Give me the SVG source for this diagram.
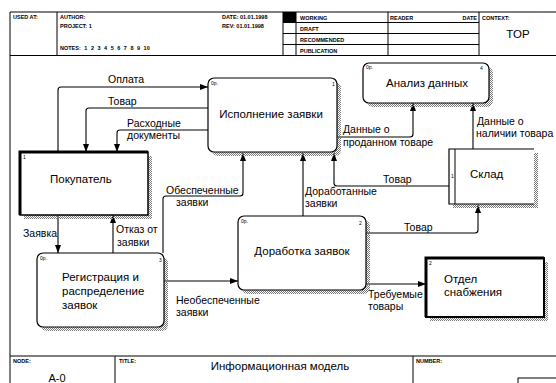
<svg xmlns="http://www.w3.org/2000/svg" width="556" height="383" viewBox="0 0 556 383">
<defs>
<pattern id="hatch" width="2" height="2" patternUnits="userSpaceOnUse"><rect width="1" height="1" fill="#777"/><rect x="1" y="1" width="1" height="1" fill="#777"/></pattern>
<marker id="ah" viewBox="0 0 8 6" refX="8" refY="3" markerWidth="8" markerHeight="6" orient="auto" markerUnits="userSpaceOnUse"><path d="M0,0 L8,3 L0,6 z" fill="#000"/></marker>
</defs>
<style>
.frame{fill:none;stroke:#000;stroke-width:1}
.hdr{font-family:"Liberation Sans",Arial,sans-serif;font-size:5.5px;font-weight:bold;fill:#000}
.box{fill:#fff;stroke:#000;stroke-width:1.2}
.shadow{fill:url(#hatch)}
.nt{font-family:"Liberation Sans",Arial,sans-serif;font-size:11.5px;fill:#000}
.lbl{font-family:"Liberation Sans",Arial,sans-serif;font-size:10.5px;fill:#000}
.tiny{font-family:"Liberation Sans",Arial,sans-serif;font-size:5px;fill:#000}
.conn{fill:none;stroke:#000;stroke-width:1.1;marker-end:url(#ah)}
</style>
<rect width="556" height="383" fill="#fff"/>
<g id="frame">
<line class="frame" x1="10" y1="12" x2="556" y2="12"/>
<line class="frame" x1="10" y1="55.5" x2="556" y2="55.5"/>
<line class="frame" x1="10" y1="12" x2="10" y2="383"/>
<line class="frame" x1="57" y1="12" x2="57" y2="55.5"/>
<line class="frame" x1="283" y1="12" x2="283" y2="55.5"/>
<line class="frame" x1="296" y1="12" x2="296" y2="55.5"/>
<line class="frame" x1="388" y1="12" x2="388" y2="55.5"/>
<line class="frame" x1="479" y1="12" x2="479" y2="55.5"/>
<line class="frame" x1="283" y1="22.5" x2="479" y2="22.5"/>
<line class="frame" x1="283" y1="33.5" x2="479" y2="33.5"/>
<line class="frame" x1="283" y1="44.5" x2="479" y2="44.5"/>
<rect x="283" y="12" width="13" height="10.5" fill="#000"/>
<text class="hdr" x="13" y="19">USED AT:</text>
<text class="hdr" x="60" y="19">AUTHOR:</text>
<text class="hdr" x="60" y="28">PROJECT: 1</text>
<text class="hdr" x="60" y="50" word-spacing="2">NOTES: 1 2 3 4 5 6 7 8 9 10</text>
<text class="hdr" x="222" y="19">DATE: 01.01.1998</text>
<text class="hdr" x="222" y="28">REV:  01.01.1998</text>
<text class="hdr" x="300" y="20">WORKING</text>
<text class="hdr" x="300" y="31">DRAFT</text>
<text class="hdr" x="300" y="42">RECOMMENDED</text>
<text class="hdr" x="300" y="53">PUBLICATION</text>
<text class="hdr" x="390" y="20">READER</text>
<text class="hdr" x="477" y="20" text-anchor="end">DATE</text>
<text class="hdr" x="482" y="20">CONTEXT:</text>
<text x="518" y="38" text-anchor="middle" font-family="Liberation Sans, Arial, sans-serif" font-size="11.5">TOP</text>
<line class="frame" x1="10" y1="356" x2="556" y2="356"/>
<line class="frame" x1="115" y1="356" x2="115" y2="383"/>
<line class="frame" x1="413" y1="356" x2="413" y2="383"/>
<rect class="frame" x="518" y="378" width="40" height="10"/>
<text class="hdr" x="13" y="363">NODE:</text>
<text class="hdr" x="119" y="363">TITLE:</text>
<text class="hdr" x="416" y="363">NUMBER:</text>
<text x="57" y="382" text-anchor="middle" font-family="Liberation Sans, Arial, sans-serif" font-size="11">A-0</text>
<text x="280" y="370" text-anchor="middle" font-family="Liberation Sans, Arial, sans-serif" font-size="11.5">Информационная модель</text>
</g>
<g id="connectors">
<path class="conn" d="M58,152 V90 Q58,87 61,87 H208"/>
<path class="conn" d="M208,108 H89 Q86,108 86,111 V152"/>
<path class="conn" d="M208,130 H120 Q117,130 117,133 V152"/>
<path class="conn" d="M163,253 V199 Q163,196 166,196 H240 Q243,196 243,193 V153"/>
<path class="conn" d="M337,137 H410 Q413,137 413,134 V103"/>
<path class="conn" d="M473,149 V103"/>
<path class="conn" d="M449,186 H337 Q334,186 334,183 V153"/>
<path class="conn" d="M303,216 V153"/>
<path class="conn" d="M366,233 H475 Q478,233 478,230 V205"/>
<path class="conn" d="M366,284 H426"/>
<path class="conn" d="M58,215 V253"/>
<path class="conn" d="M113,253 V215"/>
<path class="conn" d="M164,281 H238"/>
<text class="lbl" x="108" y="83">Оплата</text>
<text class="lbl" x="108" y="105">Товар</text>
<text class="lbl" x="127" y="127">Расходные</text>
<text class="lbl" x="127" y="139">документы</text>
<text class="lbl" x="166" y="194">Обеспеченные</text>
<text class="lbl" x="176" y="206">заявки</text>
<text class="lbl" x="343" y="133">Данные о</text>
<text class="lbl" x="343" y="146">проданном товаре</text>
<text class="lbl" x="477" y="125">Данные  о</text>
<text class="lbl" x="476" y="137">наличии товара</text>
<text class="lbl" x="383" y="183">Товар</text>
<text class="lbl" x="305" y="195">Доработанные</text>
<text class="lbl" x="305" y="207">заявки</text>
<text class="lbl" x="404" y="231">Товар</text>
<text class="lbl" x="368" y="298">Требуемые</text>
<text class="lbl" x="368" y="310">товары</text>
<text class="lbl" x="23" y="237">Заявка</text>
<text class="lbl" x="116" y="233">Отказ от</text>
<text class="lbl" x="117" y="246">заявки</text>
<text class="lbl" x="176" y="304">Необеспеченные</text>
<text class="lbl" x="176" y="316">заявки</text>
</g>
<g id="node-ispolnenie">
<rect class="shadow" x="212" y="82" width="129" height="74" rx="6"/>
<rect class="box" x="208" y="78" width="129" height="74" rx="6"/>
<text class="tiny" x="211" y="85">0р.</text>
<text class="tiny" x="332" y="86">1</text>
<text class="nt" x="271" y="118" text-anchor="middle">Исполнение заявки</text>
</g>
<g id="node-analiz">
<rect class="shadow" x="367" y="67" width="126" height="40" rx="6"/>
<rect class="box" x="363" y="63" width="126" height="40" rx="6"/>
<text class="tiny" x="366" y="69">0р.</text>
<text class="tiny" x="480" y="70">4</text>
<text class="nt" x="427" y="87" text-anchor="middle">Анализ данных</text>
</g>
<g id="node-sklad">
<rect class="shadow" x="453" y="153" width="85" height="55"/>
<rect x="449" y="149" width="85" height="55" fill="#fff" stroke="none"/>
<path d="M534,149 H449 V204 H534" fill="none" stroke="#000" stroke-width="1.2"/>
<line x1="455" y1="149" x2="455" y2="204" stroke="#000" stroke-width="1"/>
<text class="tiny" x="451" y="178">1</text>
<text class="nt" x="470" y="178">Склад</text>
</g>
<g id="node-pokupatel">
<rect class="shadow" x="24" y="156" width="128" height="63"/>
<rect x="20" y="152" width="128" height="63" fill="#fff" stroke="#000" stroke-width="1.5"/>
<path d="M20,215 V152 H148" fill="none" stroke="#000" stroke-width="3"/>
<text class="tiny" x="23" y="159">1</text>
<text class="nt" x="50" y="183">Покупатель</text>
</g>
<g id="node-registracia">
<rect class="shadow" x="41" y="257" width="127" height="74" rx="6"/>
<rect class="box" x="37" y="253" width="127" height="74" rx="6"/>
<text class="tiny" x="40" y="260">0р.</text>
<text class="tiny" x="159" y="262">3</text>
<text class="nt" x="62" y="281">Регистрация и</text>
<text class="nt" x="62" y="295">распределение</text>
<text class="nt" x="62" y="309">заявок</text>
</g>
<g id="node-dorabotka">
<rect class="shadow" x="242" y="220" width="128" height="74" rx="6"/>
<rect class="box" x="238" y="216" width="128" height="74" rx="6"/>
<text class="tiny" x="241" y="223">0р.</text>
<text class="tiny" x="359" y="225">2</text>
<text class="nt" x="302" y="255" text-anchor="middle">Доработка заявок</text>
</g>
<g id="node-otdel">
<rect class="shadow" x="430" y="262" width="118" height="59"/>
<rect x="426" y="258" width="118" height="59" fill="#fff" stroke="#000" stroke-width="2"/>
<path d="M426,317 V258 H544" fill="none" stroke="#000" stroke-width="3"/>
<text class="tiny" x="429" y="265">2</text>
<text class="nt" x="444" y="283">Отдел</text>
<text class="nt" x="444" y="296">снабжения</text>
</g>
</svg>
